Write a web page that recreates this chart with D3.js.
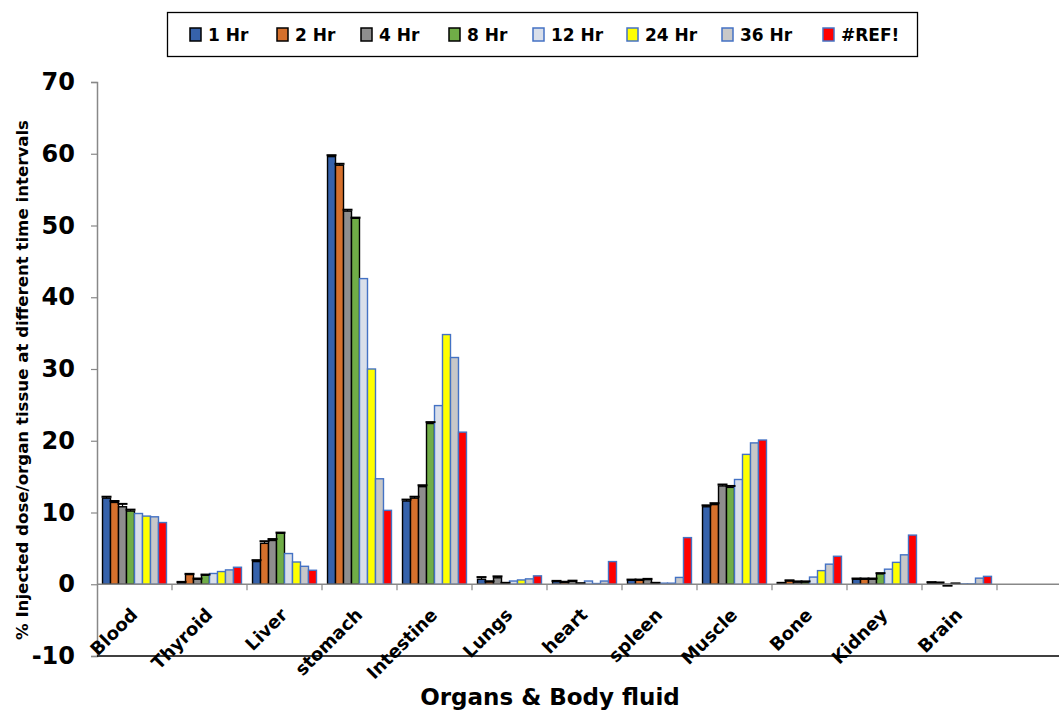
<!DOCTYPE html>
<html><head><meta charset="utf-8">
<script src="https://cdn.jsdelivr.net/npm/d3@7/dist/d3.min.js"></script>
<style>body{margin:0;background:#fff}svg{display:block}text{font-family:"DejaVu Sans",sans-serif;font-weight:bold;fill:#000}</style>
</head><body><svg id="c" width="1059" height="710"></svg>
<script>
const categories = ["Blood","Thyroid","Liver","stomach","Intestine","Lungs","heart","spleen","Muscle","Bone","Kidney","Brain"];
const seriesNames = ["1 Hr","2 Hr","4 Hr","8 Hr","12 Hr","24 Hr","36 Hr","#REF!"];
const hr1  = [12.0, 0.23, 3.16, 59.6, 11.6, 0.7, 0.37, 0.55, 10.8, 0.1, 0.7, 0.2];
const hr2  = [11.4, 1.35, 5.7, 58.4, 12.0, 0.32, 0.25, 0.55, 11.1, 0.45, 0.7, 0.15];
const hr4  = [10.8, 0.7, 6.1, 52.0, 13.6, 0.9, 0.4, 0.65, 13.7, 0.3, 0.7, -0.1];
const hr8  = [10.2, 1.25, 7.1, 51.0, 22.4, 0.1, 0.05, 0.1, 13.5, 0.3, 1.45, 0.02];
const hr12 = [9.86, 1.5, 4.28, 42.6, 24.9, 0.45, 0.45, 0.15, 14.6, 1.0, 2.1, 0.05];
const hr24 = [9.5, 1.77, 3.1, 30.0, 34.8, 0.6, 0.1, 0.15, 18.1, 1.9, 3.05, 0.05];
const hr36 = [9.4, 2.0, 2.5, 14.7, 31.6, 0.75, 0.45, 0.95, 19.7, 2.8, 4.1, 0.85];
const ref  = [8.6, 2.37, 1.95, 10.3, 21.2, 1.17, 3.16, 6.5, 20.1, 3.9, 6.85, 1.1];
const err1 = [0.2, 0.1, 0.2, 0.2, 0.2, 0.3, 0.1, 0.1, 0.2, 0.1, 0.1, 0.1];
const err2 = [0.2, 0.1, 0.3, 0.2, 0.2, 0.1, 0.1, 0.1, 0.2, 0.1, 0.1, 0.1];
const err4 = [0.4, 0.1, 0.2, 0.2, 0.2, 0.2, 0.1, 0.1, 0.2, 0.1, 0.1, 0.1];
const err8 = [0.2, 0.1, 0.1, 0.1, 0.2, 0.1, 0.1, 0.1, 0.2, 0.1, 0.1, 0.1];
const yTicks = [-10, 0, 10, 20, 30, 40, 50, 60, 70];
const fills = ["#3662AB","#D5702C","#8E8E8E","#70AD47","#D9DFEA","#FFFF00","#C8C8C8","#FF0000"];
const strokes = ["#000","#000","#000","#000","#4472C4","#4472C4","#4472C4","#4472C4"];

const values = [hr1,hr2,hr4,hr8,hr12,hr24,hr36,ref];
const errors = [err1,err2,err4,err8,null,null,null,null];

const svg = d3.select("#c");
const x0 = d3.scaleBand().domain(categories).range([97, 997]).padding(0);
const x1 = d3.scaleBand().domain(seriesNames).range([0, x0.bandwidth()]).paddingInner(0).paddingOuter(0.69);
const y = d3.scaleLinear().domain([-10, 70]).range([656, 82]);

// y axis
const yAx = svg.append("g").attr("transform","translate(97,0)")
  .call(d3.axisLeft(y).tickValues(yTicks).tickSize(6).tickPadding(16).tickFormat(d => String(d)));
yAx.select(".domain").attr("stroke","#888").attr("stroke-width",1.5);
yAx.selectAll(".tick line").attr("stroke","#888").attr("stroke-width",1.2);
yAx.selectAll(".tick text").attr("font-size",24).attr("font-weight","bold").attr("font-family","DejaVu Sans");

// bottom black line
svg.append("line").attr("x1",97).attr("x2",1059).attr("y1",y(-10)).attr("y2",y(-10))
  .attr("stroke","#000").attr("stroke-width",1.6);

// bars
const g = svg.append("g");
values.forEach((vals, si) => {
  g.selectAll(null).data(vals).enter().append("rect")
    .attr("x",(d,i)=>x0(categories[i]) + x1(seriesNames[si]))
    .attr("y",d=>y(Math.max(d,0)))
    .attr("width",x1.bandwidth())
    .attr("height",d=>Math.abs(y(d)-y(0)))
    .attr("fill",fills[si]).attr("stroke",strokes[si]).attr("stroke-width",1.4);
});
// error bars
values.forEach((vals, si) => {
  const e = errors[si]; if(!e) return;
  vals.forEach((v,i)=>{
    const cx = x0(categories[i]) + x1(seriesNames[si]) + x1.bandwidth()/2;
    const top = v >= 0 ? v + e[i] : v - e[i];
    svg.append("line").attr("x1",cx).attr("x2",cx).attr("y1",y(v)).attr("y2",y(top)).attr("stroke","#000").attr("stroke-width",1.2);
    svg.append("line").attr("x1",cx-5).attr("x2",cx+5).attr("y1",y(top)).attr("y2",y(top)).attr("stroke","#000").attr("stroke-width",2);
  });
});

// x axis at zero
const xAxG = svg.append("g").attr("transform",`translate(0,${y(0)})`);
xAxG.append("line").attr("x1",97).attr("x2",1059).attr("y1",0).attr("y2",0).attr("stroke","#888").attr("stroke-width",1.4);
const bounds = categories.map(c=>x0(c)+x0.bandwidth());
xAxG.selectAll(null).data(bounds).enter().append("line")
  .attr("x1",d=>d).attr("x2",d=>d).attr("y1",0).attr("y2",6).attr("stroke","#888").attr("stroke-width",1.2);

// category labels
const labG = svg.selectAll(null).data(categories).enter().append("g")
  .attr("transform",d=>`translate(${x0(d)+x0.bandwidth()/2+4},616)`);
labG.append("text").attr("transform","rotate(-45)")
  .attr("text-anchor","end").attr("font-size",18).text(d=>d);

// axis titles
svg.append("text").attr("x",550).attr("y",705).attr("text-anchor","middle").attr("font-size",23).text("Organs & Body fluid");
svg.append("text").attr("transform","translate(28,380) rotate(-90)").attr("text-anchor","middle").attr("font-size",16)
  .attr("textLength",520).attr("lengthAdjust","spacingAndGlyphs")
  .text("% Injected dose/organ tissue at different time intervals");

// legend
const leg = svg.append("g");
leg.append("rect").attr("x",167.5).attr("y",12.5).attr("width",750).attr("height",44).attr("fill","#fff").attr("stroke","#000").attr("stroke-width",1.3);
const legX = [190, 277, 361, 449, 533, 627, 722, 823];
seriesNames.forEach((s,i)=>{
  leg.append("rect").attr("x",legX[i]).attr("y",28).attr("width",11).attr("height",13)
    .attr("fill",fills[i]).attr("stroke",strokes[i]).attr("stroke-width",1.5);
  leg.append("text").attr("x",legX[i]+18).attr("y",41).attr("font-size",17).text(s);
});
</script></body></html>
